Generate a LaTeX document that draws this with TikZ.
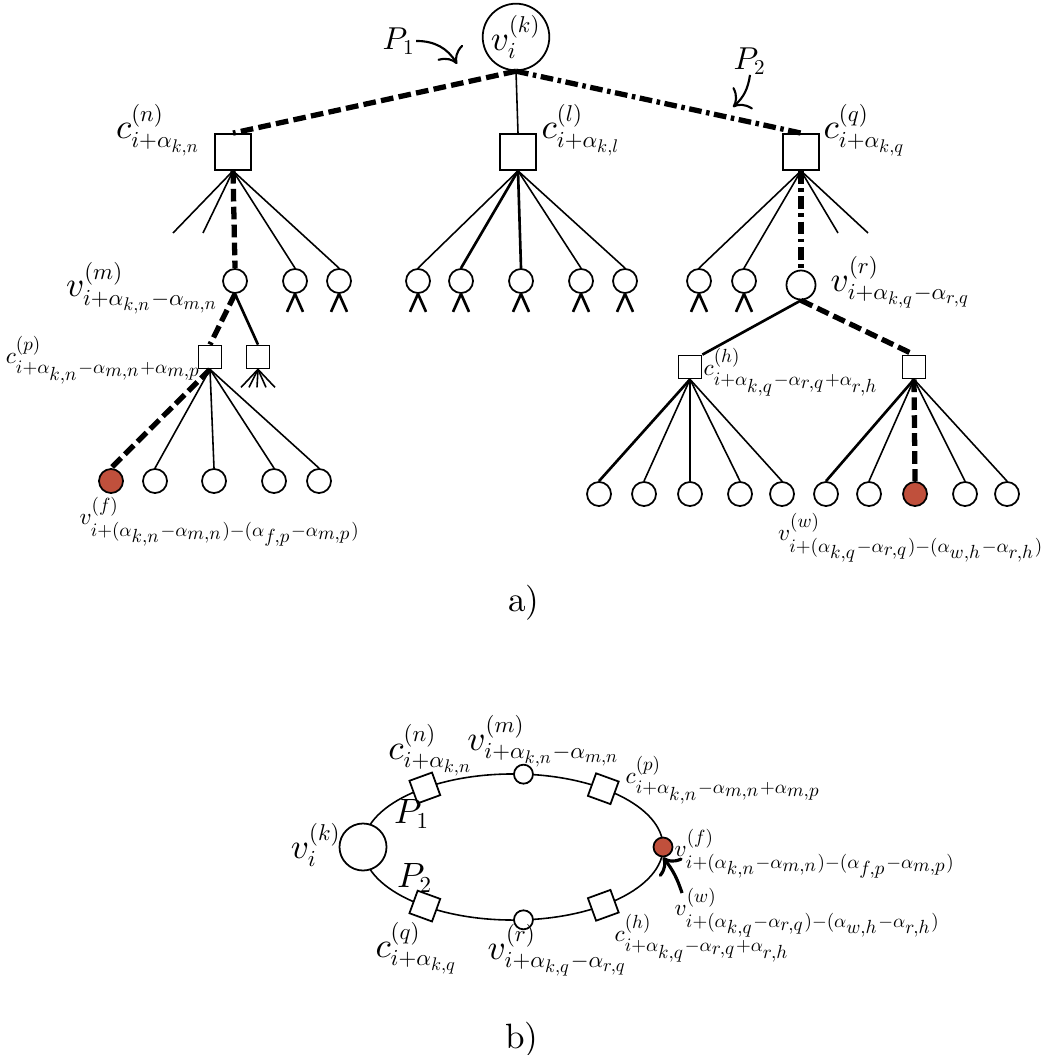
\RequirePackage{fix-cm}
\documentclass[tikz,border=0pt]{standalone}
\usetikzlibrary{arrows.meta}

% scalable math fonts, smaller indices for the labels
\DeclareFontShape{OML}{cmm}{m}{it}{<->cmmi10}{}
\DeclareFontShape{OT1}{cmr}{m}{n}{<->cmr10}{}
\DeclareFontShape{OMS}{cmsy}{m}{n}{<->cmsy10}{}
\DeclareMathSizes{10}{10}{6.5}{5.2}
\DeclareMathSizes{7}{6.6}{5.4}{5.4}

\definecolor{leafred}{RGB}{192,80,60}
\providecommand{\colorLeaf}{leafred}
\providecommand{\thinedge}{0.45pt}
\providecommand{\midedge}{0.75pt}
\providecommand{\pathwidth}{1.5pt}
\providecommand{\borderwidth}{0.5pt}

\begin{document}
\begin{tikzpicture}[
    x=0.01cm, y=-0.01cm,
    % Node styles
    var_base/.style={
        circle,
        draw=black,
        line width=\borderwidth,
        fill=white,
        inner sep=0pt
    },
    var_node/.style={var_base, minimum size=0.24cm},
    var_big/.style={var_base, minimum size=0.29cm},
    var_red/.style={var_node, fill=\colorLeaf},
    chk_base/.style={
        rectangle,
        draw=black,
        line width=\borderwidth,
        fill=white,
        inner sep=0pt
    },
    chk_big/.style={chk_base, minimum size=0.36cm},
    chk_small/.style={chk_base, minimum size=0.23cm},
    chk_ring/.style={chk_base, minimum size=0.24cm},
    % Edge styles
    thin_edge/.style={line width=\thinedge},
    mid_edge/.style={line width=\midedge},
    path_one/.style={
        line width=\pathwidth,
        dash pattern=on 3.6pt off 1.5pt
    },
    path_two/.style={
        line width=\pathwidth,
        dash pattern=on 3.6pt off 1.3pt on 1pt off 1.3pt
    },
    pointer/.style={line width=0.6pt, -{To[length=4pt]}},
    % Text styles
    lab/.style={font=\normalsize, inner sep=0pt},
    lab_small/.style={font=\scriptsize, inner sep=0pt},
    lab_path/.style={font=\normalsize, inner sep=0pt},
    sublabel/.style={font=\normalsize, inner sep=0pt}
]
    \useasboundingbox (0,0) rectangle (1043,1055);

    % ==================== a) TREE ====================
    % Root
    \node[var_base, font=\normalsize, minimum size=0.5cm] (vk) at (516,37) {$v_i^{(k)}$};

    % Check nodes of the first level
    \node[chk_big] (cn) at (233,152) {};
    \node[chk_big] (cl) at (518,152) {};
    \node[chk_big] (cq) at (801,152) {};

    \draw[path_one] (vk.south) -- (cn.north);
    \draw[thin_edge] (vk.south) -- (cl.north);
    \draw[path_two] (vk.south) -- (cq.north);

    % Variable nodes of the second level
    \node[var_node] (vm) at (235,281) {};
    \node[var_node] (a2) at (295,281) {};
    \node[var_node] (a3) at (339,281) {};
    \node[var_node] (b1) at (418,281) {};
    \node[var_node] (b2) at (461,281) {};
    \node[var_node] (b3) at (521,281) {};
    \node[var_node] (b4) at (581,281) {};
    \node[var_node] (b5) at (625,281) {};
    \node[var_node] (d1) at (699,281) {};
    \node[var_node] (d2) at (744,281) {};
    \node[var_big]  (vr) at (801,285) {};
    % Open branches
    \coordinate (s1) at (173,233);
    \coordinate (s2) at (203,233);
    \coordinate (s3) at (838,233);
    \coordinate (s4) at (868,233);

    \draw[thin_edge] (cn.south) -- (s1);
    \draw[thin_edge] (cn.south) -- (s2);
    \draw[path_one] (cn.south) -- (vm.north);
    \draw[thin_edge] (cn.south) -- (a2.north);
    \draw[thin_edge] (cn.south) -- (a3.north);

    \draw[thin_edge] (cl.south) -- (b1.north);
    \draw[mid_edge] (cl.south) -- (b2.north);
    \draw[mid_edge] (cl.south) -- (b3.north);
    \draw[thin_edge] (cl.south) -- (b4.north);
    \draw[thin_edge] (cl.south) -- (b5.north);

    \draw[thin_edge] (cq.south) -- (d1.north);
    \draw[thin_edge] (cq.south) -- (d2.north);
    \draw[path_two] (cq.south) -- (vr.north);
    \draw[thin_edge] (cq.south) -- (s3);
    \draw[thin_edge] (cq.south) -- (s4);

    % Legs under the unexpanded variable nodes
    \foreach \n in {a2,a3,b1,b2,b3,b4,b5,d1,d2}
        \draw[mid_edge] (\n.south) -- ++(-8,18) (\n.south) -- ++(8,18);

    % Check nodes of the second level
    \node[chk_small] (cp) at (210,357) {};
    \node[chk_small] (cx) at (258,357) {};
    \node[chk_small] (ch) at (690,367) {};
    \node[chk_small] (cy) at (914,367) {};

    \draw[path_one] (vm.south) -- (cp.north);
    \draw[mid_edge] (vm.south) -- (cx.north);
    \draw[mid_edge] (vr.south) -- (ch.north east);
    \draw[path_one] (vr.south) -- (cy.north);

    \foreach \dx in {-17,-9,-1,8,17}
        \draw[thin_edge] (cx.south) -- ++(\dx,18);

    % Leaves
    \node[var_red]  (vf) at (111,481) {};
    \node[var_node] (e2) at (155,481) {};
    \node[var_node] (e3) at (214,481) {};
    \node[var_node] (e4) at (274,481) {};
    \node[var_node] (e5) at (319,481) {};

    \node[var_node] (g1) at (599,494) {};
    \node[var_node] (g2) at (644,494) {};
    \node[var_node] (g3) at (690,494) {};
    \node[var_node] (g4) at (740,494) {};
    \node[var_node] (g5) at (782,494) {};

    \node[var_node] (h1) at (826,494) {};
    \node[var_node] (h2) at (869,494) {};
    \node[var_red]  (vw) at (915,494) {};
    \node[var_node] (h4) at (965,494) {};
    \node[var_node] (h5) at (1007,494) {};

    \draw[path_one] (cp.south) -- (vf.north);
    \foreach \n in {e2,e3,e4,e5}
        \draw[thin_edge] (cp.south) -- (\n.north);

    \draw[mid_edge] (ch.south) -- (g1.north);
    \foreach \n in {g2,g3,g4,g5}
        \draw[thin_edge] (ch.south) -- (\n.north);

    \draw[mid_edge] (cy.south) -- (h1.north);
    \draw[path_one] (cy.south) -- (vw.north);
    \foreach \n in {h2,h4,h5}
        \draw[thin_edge] (cy.south) -- (\n.north);

    % Labels
    \node[lab, anchor=east] (lcn) at (202,130) {$c^{(n)}_{i+\alpha_{k,n}}$};
    \node[lab, anchor=west] (lcl) at (541,130) {$c^{(l)}_{i+\alpha_{k,l}}$};
    \node[lab, anchor=west] (lcq) at (823,130) {$c^{(q)}_{i+\alpha_{k,q}}$};
    \node[lab, anchor=east] (lvm) at (220,288) {$v^{(m)}_{i+\alpha_{k,n}-\alpha_{m,n}}$};
    \node[lab, anchor=west] (lvr) at (830,282) {$v^{(r)}_{i+\alpha_{k,q}-\alpha_{r,q}}$};
    \node[lab_small, anchor=east] (lcp) at (203,360) {$c^{(p)}_{i+\alpha_{k,n}-\alpha_{m,n}+\alpha_{m,p}}$};
    \node[lab_small, anchor=west] (lch) at (703,372) {$c^{(h)}_{i+\alpha_{k,q}-\alpha_{r,q}+\alpha_{r,h}}$};
    \node[lab_small] (lvf) at (220,522) {$v^{(f)}_{i+(\alpha_{k,n}-\alpha_{m,n})-(\alpha_{f,p}-\alpha_{m,p})}$};
    \node[lab_small] (lvw) at (911,538) {$v^{(w)}_{i+(\alpha_{k,q}-\alpha_{r,q})-(\alpha_{w,h}-\alpha_{r,h})}$};

    % Path markers
    \node[lab, font=\small] (p1) at (399,41) {$P_1$};
    \node[lab, font=\small] (p2) at (750,61) {$P_2$};
    \coordinate (p1end) at (457,64);
    \coordinate (p2end) at (733,107);
    \draw[pointer] (p1.east) to[bend left=30] (p1end);
    \draw[pointer] (p2.south) to[bend left=20] (p2end);

    \node[sublabel] (capa) at (524,603) {a)};

    % ==================== b) CYCLE ====================
    \draw[thin_edge] (513,847) ellipse [x radius=1.5cm, y radius=0.73cm];

    \node[var_base, minimum size=0.47cm] (bk) at (363,847) {};
    \node[var_red, minimum size=0.19cm] (bf) at (663,847) {};
    \node[var_node, minimum size=0.19cm] (bm) at ({513+150*cos(86)}, {847-73*sin(86)}) {};
    \node[var_node, minimum size=0.19cm] (br) at ({513+150*cos(274)}, {847-73*sin(274)}) {};
    \node[chk_ring, rotate=20]  (bn) at ({513+150*cos(126)}, {847-73*sin(126)}) {};
    \node[chk_ring, rotate=-20] (bp) at ({513+150*cos(53)},  {847-73*sin(53)}) {};
    \node[chk_ring, rotate=-20] (bq) at ({513+150*cos(234)}, {847-73*sin(234)}) {};
    \node[chk_ring, rotate=20]  (bh) at ({513+150*cos(307)}, {847-73*sin(307)}) {};

    % Labels
    \node[lab, anchor=east] (lbk) at (342,845) {$v_i^{(k)}$};
    \node[lab] (lbn) at (431,750) {$c^{(n)}_{i+\alpha_{k,n}}$};
    \node[lab] (lbm) at (544,741) {$v^{(m)}_{i+\alpha_{k,n}-\alpha_{m,n}}$};
    \node[lab_small, anchor=west] (lbp) at (625,780) {$c^{(p)}_{i+\alpha_{k,n}-\alpha_{m,n}+\alpha_{m,p}}$};
    \node[lab_small, anchor=west] (lbf) at (674,854) {$v^{(f)}_{i+(\alpha_{k,n}-\alpha_{m,n})-(\alpha_{f,p}-\alpha_{m,p})}$};
    \node[lab_small, anchor=west] (lbw) at (674,913) {$v^{(w)}_{i+(\alpha_{k,q}-\alpha_{r,q})-(\alpha_{w,h}-\alpha_{r,h})}$};
    \node[lab_small, anchor=west] (lbh) at (614,938) {$c^{(h)}_{i+\alpha_{k,q}-\alpha_{r,q}+\alpha_{r,h}}$};
    \node[lab] (lbq) at (417,948) {$c^{(q)}_{i+\alpha_{k,q}}$};
    \node[lab] (lbr) at (558,950) {$v^{(r)}_{i+\alpha_{k,q}-\alpha_{r,q}}$};
    \node[lab_path] (bp1) at (412,814) {$P_1$};
    \node[lab_path] (bp2) at (415,878) {$P_2$};

    \coordinate (warrow) at (682,893);
    \draw[pointer, line width=0.9pt] (warrow) to[bend right=10] (bf.south);

    \node[sublabel] (capb) at (522,1040) {b)};

\end{tikzpicture}
\end{document}
